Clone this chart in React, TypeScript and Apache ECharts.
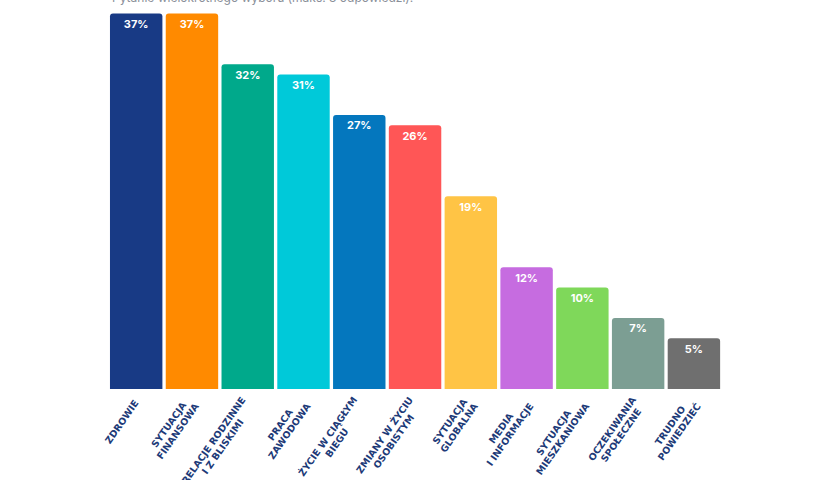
import React, { useEffect, useRef } from 'react';
import * as echarts from 'echarts';

const categories = [
  'ZDROWIE',
  'SYTUACJA\nFINANSOWA',
  'RELACJE RODZINNE\nI Z BLISKIMI',
  'PRACA\nZAWODOWA',
  'ŻYCIE W CIĄGŁYM\nBIEGU',
  'ZMIANY W ŻYCIU\nOSOBISTYM',
  'SYTUACJA\nGLOBALNA',
  'MEDIA\nI INFORMACJE',
  'SYTUACJA\nMIESZKANIOWA',
  'OCZEKIWANIA\nSPOŁECZNE',
  'TRUDNO\nPOWIEDZIEĆ',
];

const values = [37, 37, 32, 31, 27, 26, 19, 12, 10, 7, 5];

const barColors = [
  '#183a85',
  '#ff8a00',
  '#00a98b',
  '#00c9d9',
  '#0477be',
  '#ff5656',
  '#ffc445',
  '#c66ce0',
  '#7fd85a',
  '#7c9e93',
  '#6f6f6f',
];

const subtitle = 'Pytanie wielokrotnego wyboru (maks. 3 odpowiedzi).';

const FONT = 'Inter, "Noto Sans", sans-serif';
const LABEL_FONT = '"DejaVu Sans", Inter, sans-serif';

export default function App() {
  const chartRef = useRef<HTMLDivElement>(null);

  useEffect(() => {
    if (!chartRef.current) return;
    const chart = echarts.init(chartRef.current, null, { renderer: 'svg' });

    chart.setOption({
      animation: false,
      backgroundColor: '#ffffff',
      title: {
        text: subtitle,
        left: 112,
        top: -9,
        padding: 0,
        textStyle: {
          fontFamily: FONT,
          fontSize: 12,
          fontWeight: 'normal',
          color: '#8a8f99',
        },
      },
      grid: {
        left: 108.3,
        right: 118.2,
        top: 13.5,
        bottom: 91,
        containLabel: false,
        outerBoundsMode: 'none',
      },
      xAxis: {
        type: 'category',
        data: categories,
        axisLine: { show: false },
        axisTick: { show: false },
        axisLabel: {
          interval: 0,
          rotate: 55,
          margin: 12,
          formatter: (v: string) =>
            v
              .split('\n')
              .map((l) => `{a|${l}}`)
              .join('\n'),
          rich: {
            a: {
              align: 'center',
              fontFamily: LABEL_FONT,
              fontSize: 9.5,
              fontWeight: 'bold',
              lineHeight: 11,
              color: '#1d3a78',
            },
          },
        },
      },
      yAxis: {
        type: 'value',
        min: 0,
        max: 37,
        show: false,
        splitLine: { show: false },
      },
      series: [
        {
          type: 'bar',
          barCategoryGap: '6%',
          data: values.map((v, i) => ({
            value: v,
            itemStyle: { color: barColors[i] },
          })),
          itemStyle: { borderRadius: [3, 3, 0, 0] },
          label: {
            show: true,
            position: 'insideTop',
            distance: 5,
            formatter: '{c}%',
            fontFamily: FONT,
            fontSize: 11,
            fontWeight: 'bold',
            color: '#ffffff',
          },
        },
      ],
    });

    return () => {
      chart.dispose();
    };
  }, []);

  return (
    <div
      ref={chartRef}
      style={{ position: 'fixed', left: 0, top: 0, width: 840, height: 480 }}
    />
  );
}
